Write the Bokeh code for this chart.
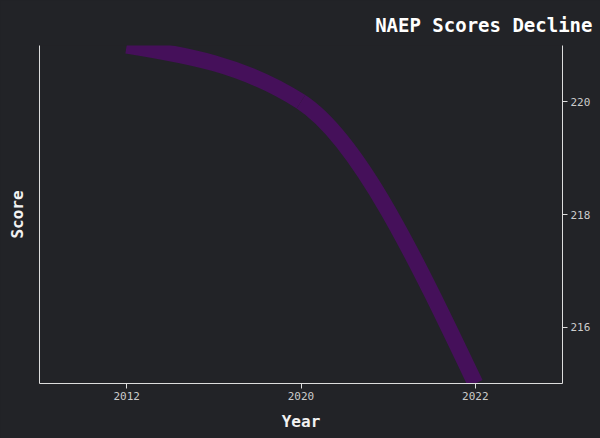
from bokeh.plotting import figure
from bokeh.models import Range1d, LinearAxis, FixedTicker, SingleIntervalTicker, ColumnDataSource, Title
from bokeh.embed import file_html
from bokeh.resources import INLINE

# ---- data ----
years = ["2012", "2020", "2022"]
scores = [221, 220, 215]

BG = "#222327"
LINE = "#45105a"
FONT = "DejaVu Sans Mono"

# positions of categories (centre of each band)
xs = [i + 0.5 for i in range(len(years))]

# monotone cubic (monotoneX) tangents -> bezier control points
n = len(xs)
sl = [(scores[i + 1] - scores[i]) / (xs[i + 1] - xs[i]) for i in range(n - 1)]
t = [0.0] * n
sg = lambda v: (v > 0) - (v < 0)
for i in range(1, n - 1):
    h0 = xs[i] - xs[i - 1]
    h1 = xs[i + 1] - xs[i]
    s0, s1 = sl[i - 1], sl[i]
    pp = (s0 * h1 + s1 * h0) / (h0 + h1)
    t[i] = (sg(s0) + sg(s1)) * min(abs(s0), abs(s1), 0.5 * abs(pp))
t[0] = (3 * sl[0] - t[1]) / 2
t[-1] = (3 * sl[-1] - t[-2]) / 2

seg = dict(x0=[], y0=[], x1=[], y1=[], cx0=[], cy0=[], cx1=[], cy1=[])
for i in range(n - 1):
    dx = (xs[i + 1] - xs[i]) / 3
    seg["x0"].append(xs[i]); seg["y0"].append(scores[i])
    seg["x1"].append(xs[i + 1]); seg["y1"].append(scores[i + 1])
    seg["cx0"].append(xs[i] + dx); seg["cy0"].append(scores[i] + dx * t[i])
    seg["cx1"].append(xs[i + 1] - dx); seg["cy1"].append(scores[i + 1] - dx * t[i + 1])
src = ColumnDataSource(seg)

p = figure(width=600, height=438, output_backend="svg", toolbar_location=None,
           x_range=Range1d(0, len(years)), y_range=Range1d(215, 221),
           x_axis_location=None, y_axis_location=None,
           min_border_left=39, min_border_right=38, min_border_top=45, min_border_bottom=55)

p.background_fill_color = BG
p.border_fill_color = BG
p.outline_line_color = None
p.xgrid.visible = False
p.ygrid.visible = False

# title
p.title = Title(text="NAEP Scores Decline", align="right", offset=-30, standoff=20,
                text_font=FONT, text_font_size="19px", text_font_style="bold",
                text_color="#ffffff")

# bottom axis
xa = LinearAxis(ticker=FixedTicker(ticks=xs),
                major_label_overrides={x: y for x, y in zip(xs, years)},
                axis_label="Year")
# left axis (line + title only)
la = LinearAxis(ticker=FixedTicker(ticks=[]), axis_label="Score")
# right axis with ticks
ra = LinearAxis(ticker=SingleIntervalTicker(interval=2))

for ax in (xa, la, ra):
    ax.axis_line_color = "#dddddd"
    ax.axis_line_width = 1
    ax.major_tick_line_color = "#dddddd"
    ax.major_tick_out = 5
    ax.major_tick_in = 0
    ax.minor_tick_line_color = None
    ax.major_label_text_font = FONT
    ax.major_label_text_font_size = "11px"
    ax.major_label_text_color = "#cccccc"
    ax.major_label_standoff = 3
    ax.axis_label_text_font = FONT
    ax.axis_label_text_font_size = "16px"
    ax.axis_label_text_font_style = "bold"
    ax.axis_label_text_color = "#f2f2f2"

la.major_tick_out = 0
la.axis_label_standoff = 13
xa.axis_label_standoff = 9

p.add_layout(xa, "below")
p.add_layout(la, "left")
p.add_layout(ra, "right")

p.bezier(x0="x0", y0="y0", x1="x1", y1="y1", cx0="cx0", cy0="cy0", cx1="cx1", cy1="cy1",
         source=src, line_color=LINE, line_width=16, line_cap="butt")

html = file_html(p, INLINE)
html = html.replace("</head>", "<style>html,body{background:%s;}</style></head>" % BG, 1)
open("out.html", "w").write(html)
